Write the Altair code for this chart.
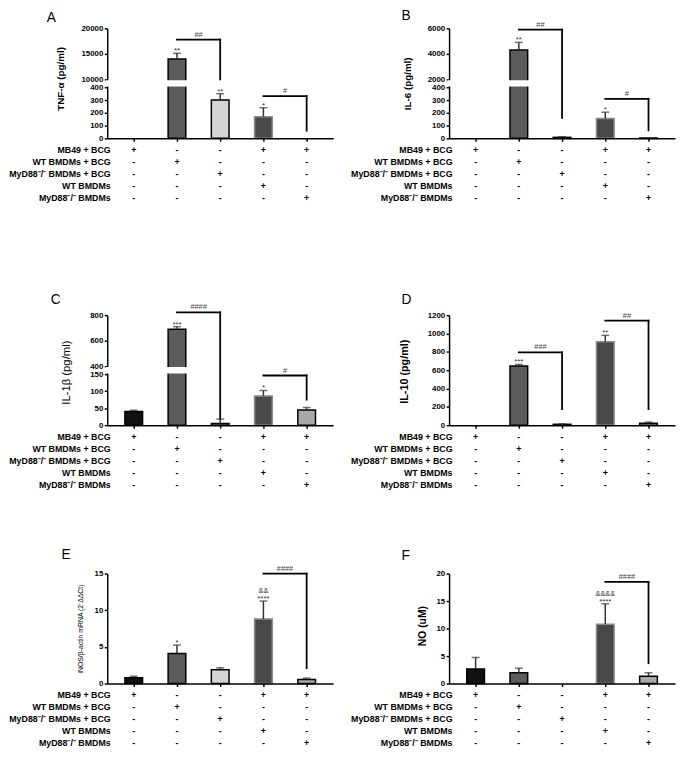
import altair as alt
import pandas as pd

# ---------------- shared categories ----------------
groups = ["MB49 + BCG", "WT BMDMs + BCG", "MyD88⁻/⁻ BMDMs + BCG", "WT BMDMs", "MyD88⁻/⁻ BMDMs"]
sign_rows = [
    ["+", "-", "-", "+", "+"],
    ["-", "+", "-", "-", "-"],
    ["-", "-", "+", "-", "-"],
    ["-", "-", "-", "+", "-"],
    ["-", "-", "-", "-", "+"],
]
bar_fill = ["#111111", "#5c5c5c", "#d4d4d4", "#484848", "#a9a9a9"]
bar_stroke = ["#000000", "#000000", "#000000", "#8c8c8c", "#000000"]

# ---------------- A: TNF-alpha ----------------
a_mean = [0, 14000, 300, 170, 0]
a_err = [0, 1100, 50, 70, 0]
a_star = ["", "**", "**", "*", ""]
a_star2 = ["", "", "", "", ""]
a_br_x1 = [1, 3]
a_br_x2 = [2, 4]
a_br_level = [17800, 330]
a_br_end = [10000, 60]
a_br_text = ["##", "#"]
a_domain = [0, 400, 10000, 20000]
a_ticks = [0, 100, 200, 300, 400, 10000, 15000, 20000]
a_break = [400, 10000]

# ---------------- B: IL-6 ----------------
b_mean = [0, 4300, 8, 155, 3]
b_err = [0, 600, 5, 50, 0]
b_star = ["", "**", "", "*", ""]
b_star2 = ["", "", "", "", ""]
b_br_x1 = [1, 3]
b_br_x2 = [2, 4]
b_br_level = [5900, 310]
b_br_end = [160, 63]
b_br_text = ["##", "#"]
b_domain = [0, 400, 2000, 6000]
b_ticks = [0, 100, 200, 300, 400, 2000, 4000, 6000]
b_break = [400, 2000]

# ---------------- C: IL-1beta ----------------
c_mean = [40, 690, 5, 86, 45]
c_err = [4, 20, 13, 16, 7]
c_star = ["", "***", "", "*", ""]
c_star2 = ["", "", "", "", ""]
c_br_x1 = [1, 3]
c_br_x2 = [2, 4]
c_br_level = [822, 146]
c_br_end = [20, 75]
c_br_text = ["####", "#"]
c_domain = [0, 150, 400, 800]
c_ticks = [0, 50, 100, 150, 400, 600, 800]
c_break = [150, 400]

# ---------------- D: IL-10 ----------------
d_mean = [0, 645, 10, 910, 22]
d_err = [0, 18, 5, 70, 12]
d_star = ["", "***", "", "**", ""]
d_star2 = ["", "", "", "", ""]
d_br_x1 = [1, 3]
d_br_x2 = [2, 4]
d_br_level = [795, 1140]
d_br_end = [175, 175]
d_br_text = ["###", "##"]
d_domain = [0, 1200]
d_ticks = [0, 200, 400, 600, 800, 1000, 1200]

# ---------------- E: iNOS ----------------
e_mean = [0.8, 4.1, 1.9, 8.8, 0.55]
e_err = [0.2, 1.15, 0.25, 2.45, 0.2]
e_star = ["", "*", "", "****", ""]
e_star2 = ["", "", "", "&&", ""]
e_br_x1 = [3]
e_br_x2 = [4]
e_br_level = [15]
e_br_end = [2.1]
e_br_text = ["####"]
e_domain = [0, 15]
e_ticks = [0, 5, 10, 15]

# ---------------- F: NO ----------------
f_mean = [2.65, 1.95, 0, 10.8, 1.35]
f_err = [2.1, 0.85, 0, 3.7, 0.6]
f_star = ["", "", "", "****", ""]
f_star2 = ["", "", "", "&&&&", ""]
f_br_x1 = [3]
f_br_x2 = [4]
f_br_level = [18.5]
f_br_end = [3.7]
f_br_text = ["####"]
f_domain = [0, 20]
f_ticks = [0, 5, 10, 15, 20]

W = 230
H = 112
BROKEN_RANGE = [H, 60, 52, 0]
TABLE_RANGE = [H + 6, H + 67]
FONT = "Liberation Sans"


def make_panel(letter, letter_x, letter_y, ytitle, ytitle_size, ytitle_weight, title_x, title_y,
               means, errs, stars, stars2, bx1, bx2, blevel, bend, btext,
               ydomain, yticks, brk=None):
    df = pd.DataFrame({"i": list(range(5)), "group": groups, "mean": means,
                       "err": errs, "star": stars, "star2": stars2})
    df["hi"] = df["mean"] + df["err"]
    xs = alt.Scale(domain=[-0.5, 4.5], nice=False, zero=False)
    if brk is not None:
        ys = alt.Scale(domain=ydomain, range=BROKEN_RANGE, nice=False, zero=False)
    else:
        ys = alt.Scale(domain=ydomain, range=[H, 0], nice=False, zero=False)

    yaxis = alt.Axis(values=yticks, format="d", title=ytitle, titleX=title_x, titleY=title_y,
                     titleAngle=-90, titleAlign="center", titleBaseline="middle",
                     titleFontSize=ytitle_size, titleFontWeight=ytitle_weight, titleColor="black",
                     labelFontSize=8, labelFontWeight="bold", labelColor="black",
                     labelOverlap=False, labelFlush=False,
                     tickSize=3, tickWidth=1.5, tickColor="black", domainColor="black",
                     domainWidth=1.5, labelPadding=1.5, grid=False, zindex=0, orient="left")
    xaxis = alt.Axis(values=[0, 1, 2, 3, 4], labels=False, title=None, tickSize=3,
                     tickWidth=1.5, tickColor="black", domainColor="black", domainWidth=1.5,
                     grid=False, zindex=1)

    def X(field):
        return alt.X(field, scale=xs, axis=xaxis)

    def Y(field):
        return alt.Y(field, scale=ys, axis=None)

    base = alt.Chart(df)
    bars = base.transform_filter("datum.mean > 0").mark_bar(size=18, strokeWidth=1.5).encode(
        x=X("i:Q"),
        y=alt.Y("mean:Q", scale=ys, axis=yaxis),
        fill=alt.Fill("group:N", scale=alt.Scale(domain=groups, range=bar_fill), legend=None),
        stroke=alt.Stroke("group:N", scale=alt.Scale(domain=groups, range=bar_stroke), legend=None),
    )
    stems = base.transform_filter("datum.err > 0").mark_rule(color="#333333", strokeWidth=1.5).encode(
        x=X("i:Q"), y=Y("mean:Q"), y2="hi:Q",
    )
    caps = base.transform_filter("datum.err > 0").mark_tick(
        orient="horizontal", size=8, thickness=1.5, color="#333333").encode(
        x=X("i:Q"), y=Y("hi:Q"),
    )
    layers = [bars, stems, caps]
    if brk is not None:
        mdf = pd.DataFrame({"lo": [brk[0]], "hi": [brk[1]]})
        mask = alt.Chart(mdf).mark_rect(color="white", yOffset=-0.75, y2Offset=0.75).encode(
            x=alt.value(-1.5), x2=alt.value(W + 2),
            y=Y("lo:Q"), y2="hi:Q",
        )
        layers.append(mask)

    bdf = pd.DataFrame({"x1": bx1, "x2": bx2, "level": blevel, "end": bend, "label": btext})
    hline = alt.Chart(bdf).mark_rule(color="black", strokeWidth=1.8, strokeCap="square").encode(
        x=X("x1:Q"), x2="x2:Q", y=Y("level:Q"),
    )
    vline = alt.Chart(bdf).mark_rule(color="black", strokeWidth=1.8, strokeCap="square").encode(
        x=X("x2:Q"), y=Y("level:Q"), y2="end:Q",
    )
    btxt = alt.Chart(bdf).transform_calculate(xm="(datum.x1 + datum.x2) / 2").mark_text(
        fontSize=7.5, color="#444444", baseline="bottom", dy=-1).encode(
        x=X("xm:Q"), y=Y("level:Q"), text="label:N",
    )
    st1 = base.transform_filter("datum.star != ''").mark_text(
        fontSize=8, color="#333333", baseline="alphabetic").encode(
        x=X("i:Q"), y=Y("hi:Q"), text="star:N",
    )
    layers += [hline, vline, btxt, st1]
    if any(s != "" for s in stars2):
        st2 = base.transform_filter("datum.star2 != ''").mark_text(
            fontSize=7.5, color="#333333", baseline="alphabetic", dy=-8).encode(
            x=X("i:Q"), y=Y("hi:Q"), text="star2:N",
        )
        layers.append(st2)

    trows = []
    for r, row in enumerate(groups):
        for i in range(5):
            trows.append({"i": i, "row": row, "sign": sign_rows[r][i]})
    tdf = pd.DataFrame(trows)
    table = alt.Chart(tdf).mark_text(fontSize=9, fontWeight="bold", color="black").encode(
        x=X("i:Q"),
        y=alt.Y("row:N", sort=groups,
                scale=alt.Scale(type="band", domain=groups, range=TABLE_RANGE,
                                paddingInner=0, paddingOuter=0),
                axis=alt.Axis(orient="left", domain=False, ticks=False,
                              labelFontSize=9, labelFontWeight="bold", labelColor="black",
                              labelPadding=-3, labelOverlap=False, grid=False,
                              title=letter, titleX=letter_x, titleY=letter_y, titleAngle=0,
                              titleAlign="left", titleBaseline="alphabetic",
                              titleFontSize=14, titleFontWeight="normal", titleColor="black")),
        text="sign:N",
    )
    layers.append(table)
    return alt.layer(*layers).resolve_scale(y="independent").properties(width=W, height=H)


pA = make_panel("A", -62, -7, "TNF-α (pg/ml)", 10, "bold", -47, 51,
                a_mean, a_err, a_star, a_star2, a_br_x1, a_br_x2, a_br_level, a_br_end, a_br_text,
                a_domain, a_ticks, a_break)
pB = make_panel("B", -49, -9, "IL-6 (pg/ml)", 10, "bold", -42, 56,
                b_mean, b_err, b_star, b_star2, b_br_x1, b_br_x2, b_br_level, b_br_end, b_br_text,
                b_domain, b_ticks, b_break)
pC = make_panel("C", -58, -12, "IL-1β (pg/ml)", 11.5, "normal", -41, 58,
                c_mean, c_err, c_star, c_star2, c_br_x1, c_br_x2, c_br_level, c_br_end, c_br_text,
                c_domain, c_ticks, c_break)
pD = make_panel("D", -49, -12, "IL-10 (pg/ml)", 11, "bold", -45, 57,
                d_mean, d_err, d_star, d_star2, d_br_x1, d_br_x2, d_br_level, d_br_end, d_br_text,
                d_domain, d_ticks)
pE = make_panel("E", -47, -15, "iNOS/β-actin mRNA (2⁻ΔΔCt)", 7, "normal", -27, 56,
                e_mean, e_err, e_star, e_star2, e_br_x1, e_br_x2, e_br_level, e_br_end, e_br_text,
                e_domain, e_ticks)
pF = make_panel("F", -49, -14, "NO (uM)", 10.5, "bold", -27, 53,
                f_mean, f_err, f_star, f_star2, f_br_x1, f_br_x2, f_br_level, f_br_end, f_br_text,
                f_domain, f_ticks)

SP_H = 118
row1 = alt.hconcat(pA, pB, spacing=SP_H, bounds="flush")
row2 = alt.hconcat(pC, pD, spacing=SP_H, bounds="flush")
row3 = alt.hconcat(pE, pF, spacing=SP_H, bounds="flush")
top = alt.vconcat(row1, row2, spacing=91)
chart = alt.vconcat(top, row3, spacing=59).properties(
    padding={"left": 0, "right": 0, "top": -6, "bottom": 0}
).configure(font=FONT).configure_view(stroke=None)

chart.save("out.html", embed_options={"renderer": "svg", "actions": False})
